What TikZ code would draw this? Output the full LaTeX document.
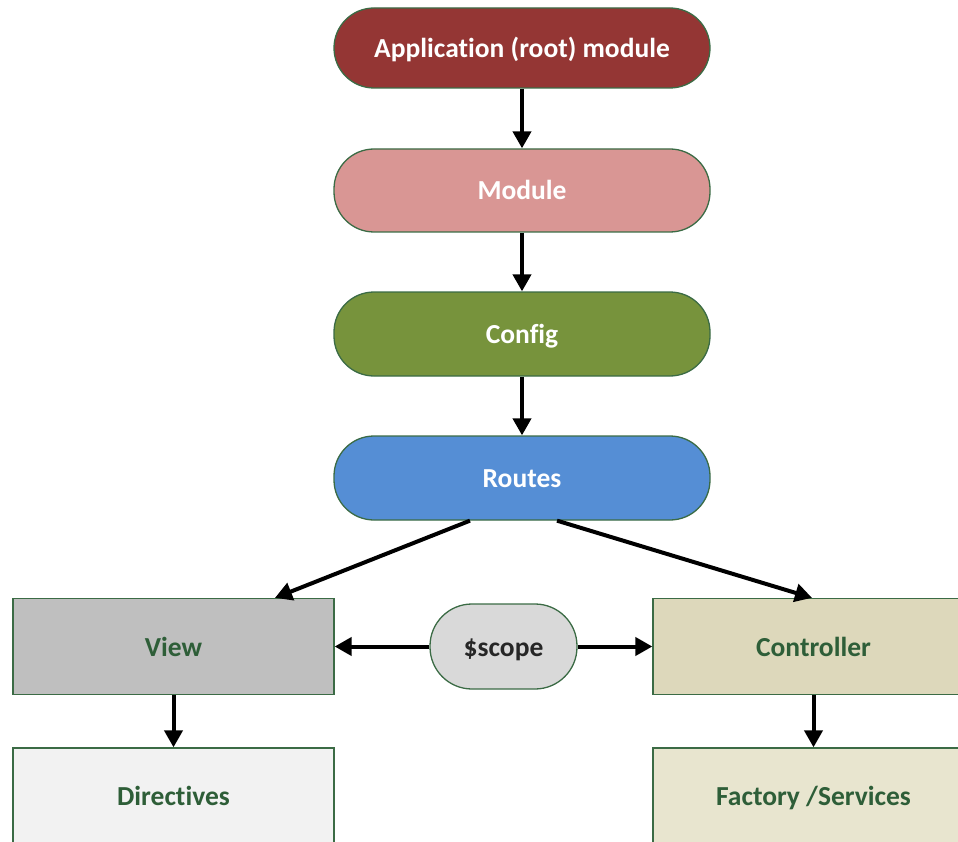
\documentclass[tikz,border=0pt]{standalone}
\usepackage{fontspec}
\setmainfont{Carlito}[Ligatures=NoCommon]
\usetikzlibrary{arrows.meta,calc}
\definecolor{edgegreen}{HTML}{3B6B45}
\definecolor{txtgreen}{HTML}{2E5E38}
\definecolor{appred}{HTML}{943634}
\definecolor{modpink}{HTML}{D99694}
\definecolor{cfggreen}{HTML}{77933C}
\definecolor{routeblue}{HTML}{558ED5}
\definecolor{viewgray}{HTML}{BFBFBF}
\definecolor{dirgray}{HTML}{F2F2F2}
\definecolor{ctrltan}{HTML}{DDD8BB}
\definecolor{facttan}{HTML}{E8E5CF}
\definecolor{scopegray}{HTML}{D9D9D9}
\tikzset{
  lbl/.style={font=\fontsize{27.5}{32}\selectfont\bfseries, text height=22pt, text depth=3pt},
  pill/.style={draw=edgegreen, line width=1.3pt, rectangle, rounded corners=40pt,
    minimum width=376pt, inner sep=0pt, text=white, lbl},
  boxnode/.style={draw=edgegreen, line width=1.3pt, rectangle, minimum width=321pt,
    inner sep=0pt, text=txtgreen, lbl},
  conn/.style={line width=4pt, -{Triangle[length=17pt,width=18pt]}}
}
\begin{document}
\begin{tikzpicture}[x=1pt,y=-1pt]
\useasboundingbox (0,0) rectangle (958,842);
\clip (0,0) rectangle (958,842);
\node[pill, fill=appred, minimum height=80pt] (app) at (522,48) {Application (root) module};
\node[pill, fill=modpink, minimum height=83pt] (mod) at (522,190.5) {Module};
\node[pill, fill=cfggreen, minimum height=84pt] (cfg) at (522,334) {Config};
\node[pill, fill=routeblue, minimum height=84pt] (routes) at (522,478) {Routes};
\node[boxnode, fill=viewgray, minimum height=96pt] (view) at (173.5,646.5) {View};
\node[boxnode, fill=ctrltan, minimum height=96pt] (ctrl) at (813.5,646.5) {Controller};
\node[draw=edgegreen, line width=1.3pt, rectangle, rounded corners=42pt, fill=scopegray,
  minimum width=147pt, minimum height=85pt, inner sep=0pt, text=black!85, lbl] (scope) at (503.5,646.5) {\$scope};
\node[boxnode, fill=dirgray, minimum height=140pt] (dir) at (173.5,818) {};
\node[boxnode, fill=facttan, minimum height=140pt] (fact) at (813.5,818) {};
\node[text=txtgreen, lbl, inner sep=0pt] (dirlbl) at (173.5,796) {Directives};
\node[text=txtgreen, lbl, inner sep=0pt] (factlbl) at (813.5,796) {Factory /Services};
\draw[conn] (app) -- (mod);
\draw[conn] (mod) -- (cfg);
\draw[conn] (cfg) -- (routes);
\draw[conn] ([xshift=-52pt]routes.south) -- ([xshift=101.5pt]view.north);
\draw[conn] ([xshift=35pt]routes.south) -- ([xshift=-1.5pt]ctrl.north);
\draw[conn] (scope) -- (view);
\draw[conn] (scope) -- (ctrl);
\draw[conn] (view) -- (dir);
\draw[conn] (ctrl) -- (fact);
\end{tikzpicture}
\end{document}
